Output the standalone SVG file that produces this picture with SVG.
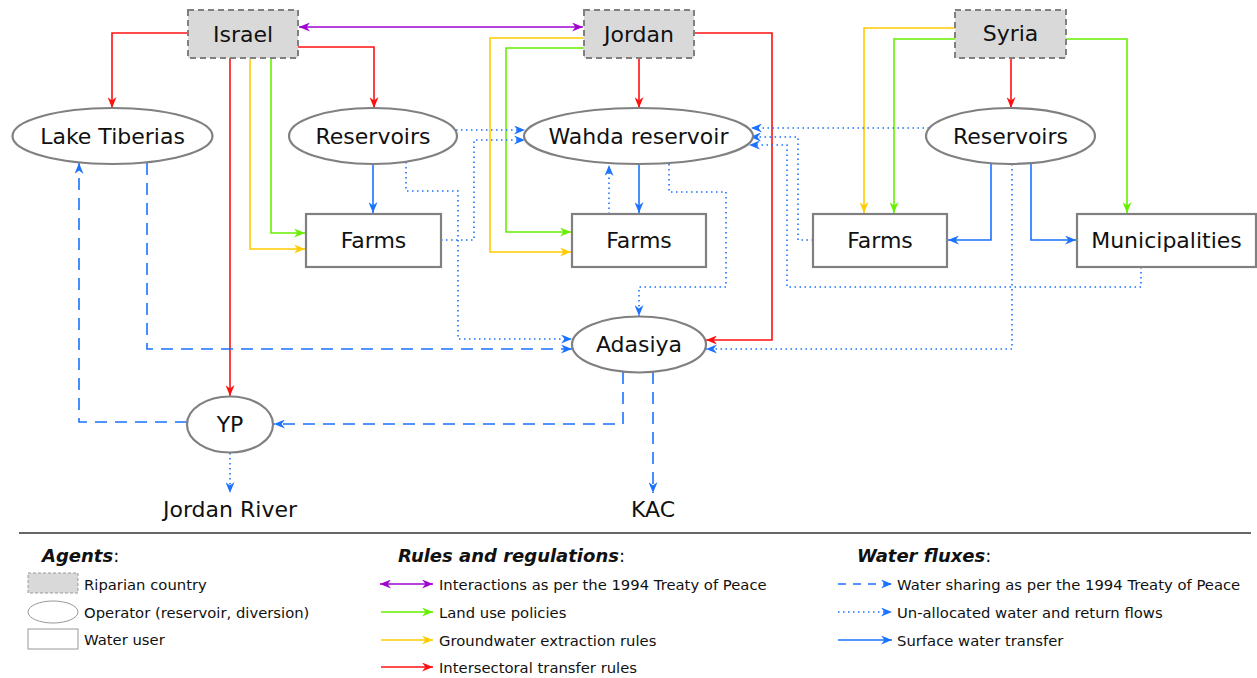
<svg xmlns="http://www.w3.org/2000/svg" width="1257" height="678" viewBox="0 0 1257 678">
<style>
text{font-family:"DejaVu Sans","Liberation Sans",sans-serif;fill:#111}
.n{font-size:22px;text-anchor:middle}
.lg{font-size:14.8px}
.tt{font-size:18px}
.b{font-weight:bold;font-style:italic}
.country{fill:#d9d9d9;stroke:#808080;stroke-width:2;stroke-dasharray:6,4}
.op{fill:#fff;stroke:#808080;stroke-width:2.2}
.user{fill:#fff;stroke:#808080;stroke-width:2.2}
.c{fill:none;stroke-width:1.6}
.red{stroke:#ff1010;marker-end:url(#mr)}
.grn{stroke:#66f000;marker-end:url(#mg)}
.yel{stroke:#ffcc00;marker-end:url(#my)}
.pur{stroke:#a000d0;marker-end:url(#mp);marker-start:url(#mp)}
.blu{stroke:#1a72ff;marker-end:url(#mb)}
.dash{stroke-dasharray:12,8}
.dot{stroke-dasharray:1.5,3.5}
</style>
<defs>
<marker id="mr" markerUnits="userSpaceOnUse" markerWidth="12" markerHeight="9" refX="11" refY="4.5" orient="auto-start-reverse"><path d="M0,0 L11,4.5 L0,9 L3.5,4.5 z" fill="#ff1010"/></marker>
<marker id="mg" markerUnits="userSpaceOnUse" markerWidth="12" markerHeight="9" refX="11" refY="4.5" orient="auto-start-reverse"><path d="M0,0 L11,4.5 L0,9 L3.5,4.5 z" fill="#66f000"/></marker>
<marker id="my" markerUnits="userSpaceOnUse" markerWidth="12" markerHeight="9" refX="11" refY="4.5" orient="auto-start-reverse"><path d="M0,0 L11,4.5 L0,9 L3.5,4.5 z" fill="#ffcc00"/></marker>
<marker id="mp" markerUnits="userSpaceOnUse" markerWidth="12" markerHeight="9" refX="11" refY="4.5" orient="auto-start-reverse"><path d="M0,0 L11,4.5 L0,9 L3.5,4.5 z" fill="#a000d0"/></marker>
<marker id="mb" markerUnits="userSpaceOnUse" markerWidth="12" markerHeight="9" refX="11" refY="4.5" orient="auto-start-reverse"><path d="M0,0 L11,4.5 L0,9 L3.5,4.5 z" fill="#1a72ff"/></marker>
</defs>
<rect width="1257" height="678" fill="#fff"/>

<g id="connectors">
<!-- rules -->
<path class="c pur" d="M299,27 H583"/>
<path class="c red" d="M188,33 H112 V108"/>
<path class="c red" d="M298,47 H374 V108"/>
<path class="c red" d="M230,58 V396"/>
<path class="c yel" d="M250,58 V249 H305"/>
<path class="c grn" d="M271,58 V233 H305"/>
<path class="c red" d="M639,58 V108"/>
<path class="c red" d="M694,33 H772 V340 H706"/>
<path class="c yel" d="M584,38 H490 V252 H571"/>
<path class="c grn" d="M584,48 H506 V232 H571"/>
<path class="c red" d="M1011,58 V108"/>
<path class="c yel" d="M955,28 H864 V213"/>
<path class="c grn" d="M955,39 H894 V213"/>
<path class="c grn" d="M1066,39 H1127 V213"/>
<!-- surface water -->
<path class="c blu" d="M373,164 V213"/>
<path class="c blu" d="M639,164 V213"/>
<path class="c blu" d="M991,164 V240 H948"/>
<path class="c blu" d="M1031,164 V240 H1076"/>
<!-- unallocated -->
<path class="c blu dot" d="M456,130 H525"/>
<path class="c blu dot" d="M441,240 H474 V140 H525"/>
<path class="c blu dot" d="M406,162 V191 H458 V339 H572"/>
<path class="c blu dot" d="M609,214 V165"/>
<path class="c blu dot" d="M669,164 V192 H726 V287 H639 V316"/>
<path class="c blu dot" d="M929,128 H751"/>
<path class="c blu dot" d="M813,240 H798 V137 H750"/>
<path class="c blu dot" d="M1141,267 V287 H787 V145 H749"/>
<path class="c blu dot" d="M1012,164 V349 H706"/>
<path class="c blu dot" d="M230,453 V493"/>
<!-- treaty sharing -->
<path class="c blu dash" d="M147,163 V349 H572"/>
<path class="c blu dash" d="M187,422 H79 V163"/>
<path class="c blu dash" d="M623,372 V424 H274"/>
<path class="c blu dash" d="M653,372 V493"/>
</g>

<g id="israel"><rect class="country" x="188" y="10" width="110" height="48"/><text class="n" x="243" y="42">Israel</text></g>
<g id="jordan"><rect class="country" x="584" y="10" width="110" height="48"/><text class="n" x="639" y="42">Jordan</text></g>
<g id="syria"><rect class="country" x="955" y="10" width="111" height="48"/><text class="n" x="1010.5" y="41">Syria</text></g>

<g id="lake-tiberias"><ellipse class="op" cx="112.5" cy="136" rx="100" ry="28"/><text class="n" x="112.5" y="144">Lake Tiberias</text></g>
<g id="israel-reservoirs"><ellipse class="op" cx="373" cy="136" rx="84" ry="28"/><text class="n" x="373" y="144">Reservoirs</text></g>
<g id="wahda"><ellipse class="op" cx="638.5" cy="136" rx="114.5" ry="28"/><text class="n" x="638.5" y="144">Wahda reservoir</text></g>
<g id="syria-reservoirs"><ellipse class="op" cx="1010.5" cy="136" rx="84.5" ry="28"/><text class="n" x="1010.5" y="144">Reservoirs</text></g>

<g id="israel-farms"><rect class="user" x="306" y="214" width="135" height="53"/><text class="n" x="373.5" y="248">Farms</text></g>
<g id="jordan-farms"><rect class="user" x="572" y="214" width="134" height="53"/><text class="n" x="639" y="248">Farms</text></g>
<g id="syria-farms"><rect class="user" x="813" y="214" width="134" height="53"/><text class="n" x="880" y="248">Farms</text></g>
<g id="municipalities"><rect class="user" x="1077" y="214" width="179" height="53"/><text class="n" x="1166.5" y="248">Municipalities</text></g>

<g id="adasiya"><ellipse class="op" cx="639" cy="344.5" rx="67" ry="28"/><text class="n" x="639" y="352">Adasiya</text></g>
<g id="yp"><ellipse class="op" cx="230" cy="424.5" rx="43" ry="28"/><text class="n" x="230" y="432">YP</text></g>
<g id="jordan-river"><text class="n" x="230" y="517">Jordan River</text></g>
<g id="kac"><text class="n" x="653" y="517">KAC</text></g>

<g id="legend">
<line x1="19" y1="533" x2="1251" y2="533" stroke="#333" stroke-width="1.6"/>
<text class="tt" x="42" y="562"><tspan class="b">Agents</tspan>:</text>
<rect x="28" y="573" width="50" height="20" fill="#d9d9d9" stroke="#999" stroke-width="1" stroke-dasharray="3,2"/>
<text class="lg" x="84" y="590">Riparian country</text>
<ellipse cx="53" cy="612" rx="25" ry="11" fill="#fff" stroke="#999" stroke-width="1"/>
<text class="lg" x="84" y="618">Operator (reservoir, diversion)</text>
<rect x="28" y="629" width="50" height="20" fill="#fff" stroke="#999" stroke-width="1"/>
<text class="lg" x="84" y="645">Water user</text>

<text class="tt" x="398" y="562"><tspan class="b">Rules and regulations</tspan>:</text>
<path class="c pur" d="M380,584 H433"/>
<text class="lg" x="439" y="590">Interactions as per the 1994 Treaty of Peace</text>
<path class="c grn" d="M381,612 H433"/>
<text class="lg" x="439" y="618">Land use policies</text>
<path class="c yel" d="M381,640 H433"/>
<text class="lg" x="439" y="646">Groundwater extraction rules</text>
<path class="c red" d="M381,667 H433"/>
<text class="lg" x="439" y="673">Intersectoral transfer rules</text>

<text class="tt" x="857" y="562"><tspan class="b">Water fluxes</tspan>:</text>
<path class="c blu" d="M838,584 H892" stroke-dasharray="8,7"/>
<text class="lg" x="897" y="590">Water sharing as per the 1994 Treaty of Peace</text>
<path class="c blu dot" d="M838,612 H892"/>
<text class="lg" x="897" y="618">Un-allocated water and return flows</text>
<path class="c blu" d="M838,640 H892"/>
<text class="lg" x="897" y="646">Surface water transfer</text>
</g>
</svg>
